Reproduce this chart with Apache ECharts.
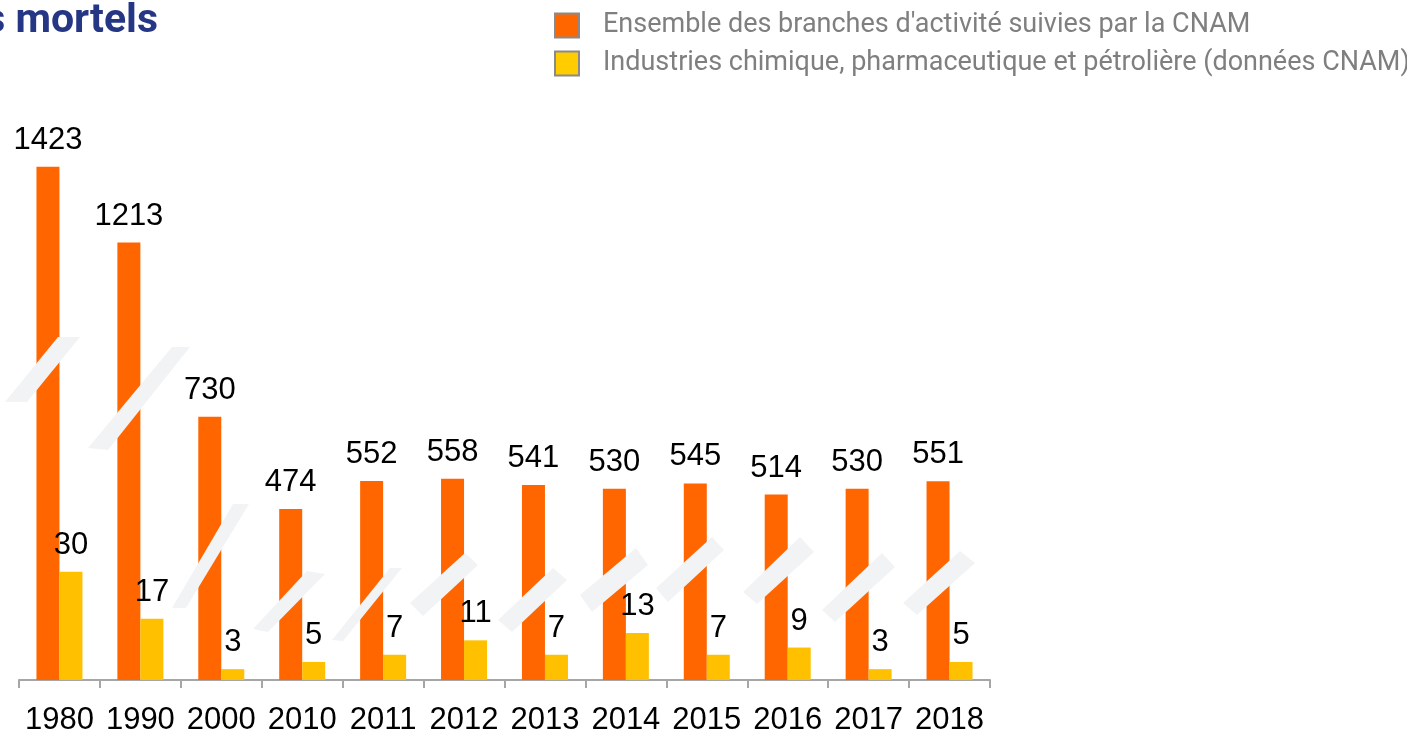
<!DOCTYPE html>
<html>
<head>
<meta charset="utf-8">
<script src="https://cdn.jsdelivr.net/npm/echarts@6/dist/echarts.min.js"></script>
<style>
  html, body { margin: 0; padding: 0; background: #fff; }
  #chart { width: 1407px; height: 731px; }
</style>
</head>
<body>
<div id="chart"></div>
<script>
// data
const years = ["1980", "1990", "2000", "2010", "2011", "2012", "2013", "2014", "2015", "2016", "2017", "2018"];
const allBranches = [1423, 1213, 730, 474, 552, 558, 541, 530, 545, 514, 530, 551];
const chemIndustries = [30, 17, 3, 5, 7, 11, 7, 13, 7, 9, 3, 5];
const seriesNames = [
  "Ensemble des branches d'activité suivies par la CNAM",
  "Industries chimique, pharmaceutique et pétrolière (données CNAM)"
];

// "axe coupé" slashes, pure decoration
const slashes = [
  [[58, 337], [80, 337], [27, 402], [5, 402]],
  [[172, 347], [190, 347], [108, 450], [88, 448]],
  [[233, 504], [249, 504], [186, 608], [172, 608]],
  [[307, 571], [325, 574], [268, 632], [253, 629]],
  [[390, 568], [402, 568], [343, 641], [332, 640]],
  [[465, 553], [478, 565], [423, 616], [410, 603]],
  [[553, 568], [567, 580], [512, 632], [498, 620]],
  [[636, 548], [648, 565], [592, 612], [580, 595]],
  [[712, 537], [724, 550], [668, 602], [656, 588]],
  [[800, 537], [814, 552], [757, 604], [743, 592]],
  [[882, 553], [895, 567], [835, 622], [822, 610]],
  [[960, 551], [975, 563], [917, 615], [903, 603]]
];

let chart = echarts.init(document.getElementById("chart"));

const labelStyle = {
  show: true,
  position: "top",
  distance: 11,
  color: "#000",
  fontFamily: "Liberation Sans, Arial, sans-serif",
  fontSize: 31
};

let option = {
  animation: false,
  title: {
    text: "Accidents mortels",
    right: 1249,
    top: 1,
    padding: 0,
    textStyle: {
      fontFamily: "Roboto",
      fontWeight: "bold",
      fontSize: 41,
      color: "#253685"
    }
  },
  legend: {
    orient: "vertical",
    left: 554,
    top: 12,
    padding: 0,
    itemWidth: 24,
    itemHeight: 24,
    itemGap: 11,
    icon: "rect",
    itemStyle: { borderColor: "#8a8a8a", borderWidth: 2 },
    textStyle: {
      fontFamily: "Roboto",
      fontSize: 27,
      color: "#7f7f7f",
      padding: [0, 0, 0, 19]
    },
    data: [
      { name: seriesNames[0], itemStyle: { color: "#FF6600" } },
      { name: seriesNames[1], itemStyle: { color: "#FFCC00" } }
    ]
  },
  grid: { left: 19, right: 417, top: 139, bottom: 51, containLabel: false, outerBoundsMode: "none" },
  xAxis: {
    type: "category",
    data: years,
    axisLine: { lineStyle: { color: "#a6a6a6", width: 2 } },
    axisTick: { show: true, length: 8, lineStyle: { color: "#a6a6a6", width: 2 } },
    axisLabel: {
      color: "#000",
      fontFamily: "Liberation Sans, Arial, sans-serif",
      fontSize: 31,
      margin: 25,
      interval: 0
    }
  },
  yAxis: [
    { type: "value", min: 0, max: 1500, show: false },
    { type: "value", min: 0, max: 150, show: false }
  ],
  series: [
    {
      name: seriesNames[0],
      type: "bar",
      yAxisIndex: 0,
      barWidth: 23,
      barGap: "0%",
      itemStyle: { color: "#FF6600" },
      label: labelStyle,
      data: allBranches
    },
    {
      name: seriesNames[1],
      type: "bar",
      yAxisIndex: 1,
      barWidth: 23,
      barGap: "0%",
      itemStyle: { color: "#FFC000" },
      label: labelStyle,
      data: chemIndustries
    }
  ],
  graphic: slashes.map(pts => ({
    type: "polygon",
    silent: true,
    z: 10,
    shape: { points: pts },
    style: { fill: "#F2F3F5" }
  }))
};

chart.setOption(option);
</script>
</body>
</html>
